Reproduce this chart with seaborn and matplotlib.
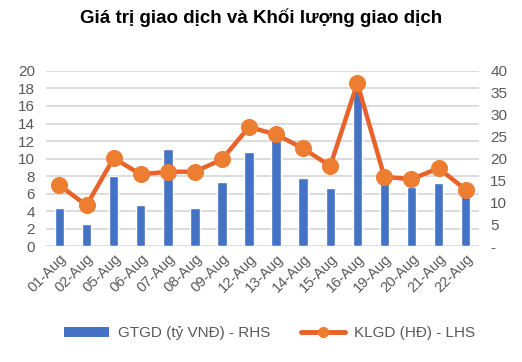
import matplotlib
matplotlib.use("Agg")
import matplotlib.pyplot as plt
import seaborn as sns
import numpy as np
import pandas as pd
from matplotlib.patches import Patch
from matplotlib.lines import Line2D

dates = ["01-Aug", "02-Aug", "05-Aug", "06-Aug", "07-Aug", "08-Aug", "09-Aug", "12-Aug",
         "13-Aug", "14-Aug", "15-Aug", "16-Aug", "19-Aug", "20-Aug", "21-Aug", "22-Aug"]
gtgd = [4.3, 2.5, 8.0, 4.7, 11.1, 4.4, 7.3, 10.8, 13.6, 7.8, 6.6, 17.8, 8.0, 6.8, 7.2, 6.0]
klgd = [13.9, 9.3, 20.1, 16.4, 17.0, 17.0, 19.8, 27.2, 25.5, 22.3, 18.3, 37.2, 15.8, 15.3, 17.8, 12.9]
left_ticks = list(range(0, 21, 2))
right_ticks = list(range(0, 41, 5))
right_labels = ["-"] + [str(v) for v in right_ticks[1:]]

title = "Giá trị giao dịch và Khối lượng giao dịch"
bar_label = "GTGD (tỷ VNĐ) - RHS"
line_label = "KLGD (HĐ) - LHS"

sns.set_theme(style="white")
plt.rcParams['font.family'] = ['Liberation Sans', 'DejaVu Sans']

bar_color = "#4472C4"
line_color = "#E8622A"
marker_color = "#ED7D31"
text_color = "#595959"

df = pd.DataFrame({"date": dates, "gtgd": gtgd, "klgd": klgd})

fig = plt.figure(figsize=(5.22, 3.62), dpi=100)
ax = fig.add_axes([0.088, 0.320, 0.830, 0.484])
ax.set_axisbelow(True)
for v in left_ticks:
    ax.axhline(v, color="#D9D9D9", lw=1.3, zorder=0)
sns.barplot(data=df, x="date", y="gtgd", ax=ax, color=bar_color, width=0.35,
            saturation=1, zorder=2)
ax.set_ylim(0, 20)
ax.set_xlim(-0.5, len(dates) - 0.5)
ax.set_yticks(left_ticks)
ax.set_xlabel("")
ax.set_ylabel("")
for s in ax.spines.values():
    s.set_visible(False)
ax.tick_params(axis="y", length=0, labelsize=11, labelcolor=text_color, pad=8)
ax.tick_params(axis="x", length=0, labelsize=10.5, labelcolor=text_color, pad=4)
plt.setp(ax.get_xticklabels(), rotation=45, ha="right", rotation_mode="anchor")

ax2 = ax.twinx()
sns.lineplot(x=np.arange(len(dates)), y=klgd, ax=ax2, color=line_color, lw=3.2,
             marker="o", markersize=11.5, markerfacecolor=marker_color,
             markeredgecolor=marker_color, zorder=3)
ax2.set_ylim(0, 40)
ax2.set_yticks(right_ticks)
ax2.set_yticklabels(right_labels)
for s in ax2.spines.values():
    s.set_visible(False)
ax2.tick_params(axis="y", length=0, labelsize=11, labelcolor=text_color, pad=8)
ax2.set_ylabel("")

fig.text(0.5, 0.952, title, ha="center", va="center", fontsize=13.5,
         fontweight="bold", color="#000000")

handles = [Patch(facecolor=bar_color, edgecolor="none"),
           Line2D([0], [0], color=line_color, lw=3.5, marker="o", markersize=7,
                  markerfacecolor=marker_color, markeredgecolor=marker_color)]
fig.legend(handles, [bar_label, line_label], loc="center", bbox_to_anchor=(0.517, 0.08),
           ncol=2, frameon=False, fontsize=11, labelcolor=text_color,
           handlelength=2.9, handleheight=0.6, columnspacing=2.0, handletextpad=0.6)

fig.savefig("out.png", dpi=100)
